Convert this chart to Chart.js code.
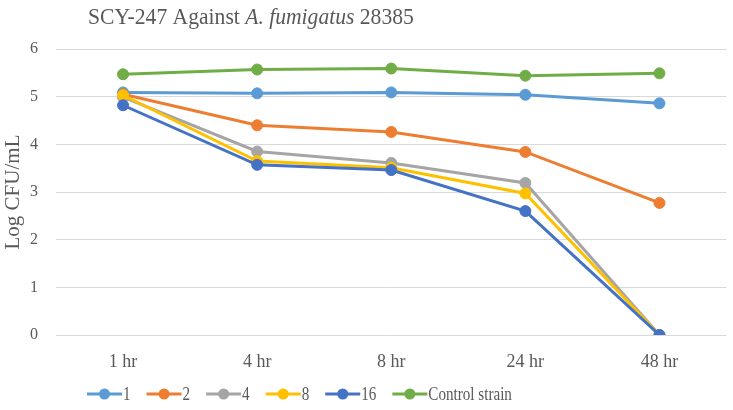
<!DOCTYPE html>
<html>
<head>
<meta charset="utf-8">
<script src="https://cdn.jsdelivr.net/npm/chart.js@4/dist/chart.umd.min.js"></script>
<style>
  html, body { margin: 0; padding: 0; background: #ffffff; }
  #wrap { width: 733px; height: 410px; }
</style>
</head>
<body>
<div id="wrap"><canvas id="c" width="733" height="410"></canvas></div>
<script>
// ---- data ----
const categories = ['1 hr', '4 hr', '8 hr', '24 hr', '48 hr'];
const seriesNames = ['1', '2', '4', '8', '16', 'Control strain'];
const series1 = [5.09, 5.07, 5.09, 5.04, 4.86];
const series2 = [5.05, 4.40, 4.26, 3.84, 2.77];
const series4 = [4.99, 3.85, 3.61, 3.19, 0];
const series8 = [5.03, 3.65, 3.51, 2.97, 0];
const series16 = [4.82, 3.57, 3.46, 2.60, 0];
const seriesControl = [5.47, 5.57, 5.59, 5.44, 5.49];
const yTickValues = [0, 1, 2, 3, 4, 5, 6];
const titleParts = [
  { text: 'SCY-247 Against ', italic: false },
  { text: 'A. fumigatus', italic: true },
  { text: ' 28385', italic: false }
];
const yAxisTitle = 'Log CFU/mL';

// ---- styles ----
const colors = ['#5B9BD5', '#ED7D31', '#A5A5A5', '#FFC000', '#4472C4', '#70AD47'];
const allSeries = [series1, series2, series4, series8, series16, seriesControl];
const FONT = '"Liberation Serif", "Times New Roman", serif';
const TEXT = '#595959';

const datasets = allSeries.map((vals, i) => ({
  label: seriesNames[i],
  data: vals,
  borderColor: colors[i],
  backgroundColor: colors[i],
  pointBackgroundColor: colors[i],
  pointBorderColor: colors[i],
  borderWidth: 3,
  pointRadius: 5.5,
  pointHoverRadius: 5.5,
  pointBorderWidth: 1,
  tension: 0,
  fill: false,
  order: allSeries.length - i
}));

const titlePlugin = {
  id: 'mixedTitle',
  afterDraw(chart) {
    const ctx = chart.ctx;
    ctx.save();
    ctx.fillStyle = TEXT;
    ctx.textBaseline = 'alphabetic';
    ctx.textAlign = 'left';
    ctx.translate(88, 24);
    ctx.scale(0.9, 1);
    let x = 0;
    titleParts.forEach(p => {
      ctx.font = (p.italic ? 'italic ' : '') + '24px ' + FONT;
      ctx.fillText(p.text, x, 0);
      x += ctx.measureText(p.text).width;
    });
    ctx.restore();
  }
};

const legendPlugin = {
  id: 'lineLegend',
  afterDraw(chart) {
    const ctx = chart.ctx;
    ctx.save();
    ctx.font = '18px ' + FONT;
    ctx.textBaseline = 'middle';
    ctx.textAlign = 'left';
    const sx = 0.84;
    let x = 87;
    const y = 394;
    const lineLen = 35;
    chart.data.datasets.forEach(ds => {
      ctx.strokeStyle = ds.borderColor;
      ctx.lineWidth = 3;
      ctx.beginPath();
      ctx.moveTo(x, y);
      ctx.lineTo(x + lineLen, y);
      ctx.stroke();
      ctx.fillStyle = ds.borderColor;
      ctx.beginPath();
      ctx.arc(x + lineLen / 2, y, 5.5, 0, Math.PI * 2);
      ctx.fill();
      const tx = x + lineLen + 1;
      ctx.fillStyle = TEXT;
      ctx.save();
      ctx.translate(tx, y + 1);
      ctx.scale(sx, 1);
      ctx.fillText(ds.label, 0, 0);
      ctx.restore();
      x = tx + ctx.measureText(ds.label).width * sx + 16;
    });
    ctx.restore();
  }
};

new Chart(document.getElementById('c'), {
  type: 'line',
  data: { labels: categories, datasets },
  options: {
    responsive: false,
    animation: false,
    layout: { padding: { top: 49, right: 6, left: 0, bottom: 0 } },
    plugins: {
      legend: { display: false },
      title: { display: false },
      tooltip: { enabled: false }
    },
    scales: {
      x: {
        offset: true,
        grid: { display: false },
        border: { display: false },
        ticks: { color: TEXT, font: { family: FONT, size: 18 }, padding: 8 },
        afterFit(s) { s.height = 75; }
      },
      y: {
        min: 0,
        max: 6,
        afterBuildTicks(s) { s.ticks = yTickValues.map(v => ({ value: v })); },
        grid: { color: '#D9D9D9', lineWidth: 1, drawTicks: false },
        border: { display: false },
        ticks: { color: TEXT, font: { family: FONT, size: 16 }, padding: 18 },
        title: {
          display: true,
          text: yAxisTitle,
          color: TEXT,
          font: { family: FONT, size: 21 },
          padding: { top: 1, bottom: 0 }
        },
        afterFit(s) { s.width = 56; }
      }
    }
  },
  plugins: [titlePlugin, legendPlugin]
});
</script>
</body>
</html>
